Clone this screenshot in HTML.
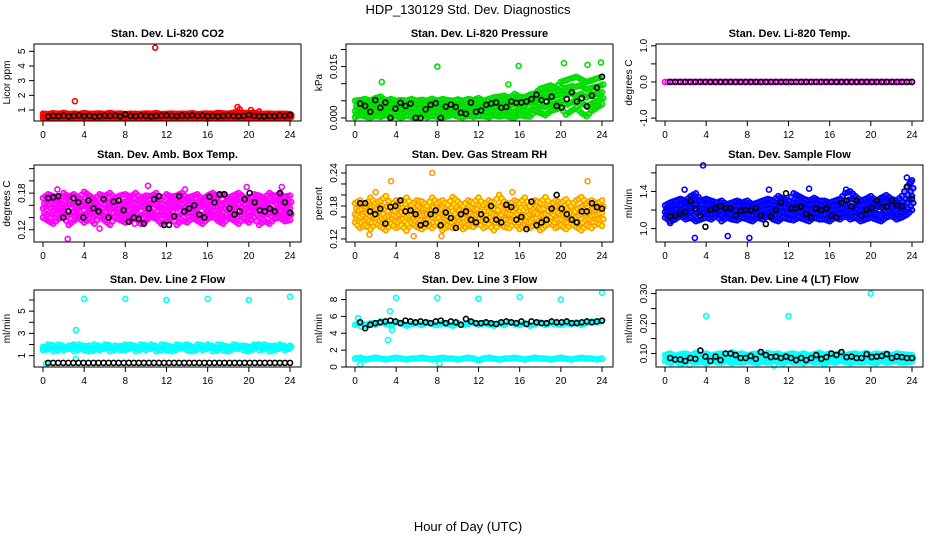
<!DOCTYPE html>
<html><head><meta charset="utf-8"><style>
body{margin:0;background:#fff;width:936px;height:540px;overflow:hidden;font-family:"Liberation Sans",Arial,sans-serif}
svg text{font-family:"Liberation Sans",Arial,sans-serif}
</style></head><body>
<svg id="chart" width="936" height="540" viewBox="0 0 936 540" xmlns="http://www.w3.org/2000/svg">
<text x="468" y="14" font-size="13" text-anchor="middle">HDP_130129  Std. Dev. Diagnostics</text>
<text x="468" y="531" font-size="13" text-anchor="middle">Hour of Day (UTC)</text>
</svg>
<script>
// ---- data (values at half-hour steps 0..24) ----
const hourTicks=[0,4,8,12,16,20,24];
const co2Lo=[0.45,0.48,0.44,0.5,0.46,0.47,0.45,0.49,0.44,0.46,0.5,0.45,0.47,0.48,0.44,0.46,0.45,0.49,0.47,0.44,0.46,0.48,0.45,0.47,0.46,0.5,0.44,0.46,0.48,0.45,0.47,0.44,0.42,0.46,0.48,0.45,0.47,0.49,0.5,0.46,0.45,0.48,0.44,0.46,0.47,0.45,0.48,0.46,0.47];
const co2Mid=[0.6,0.62,0.58,0.63,0.6,0.61,0.59,0.62,0.6,0.64,0.58,0.61,0.6,0.62,0.59,0.6,0.63,0.61,0.6,0.58,0.62,0.6,0.61,0.59,0.6,0.62,0.63,0.6,0.58,0.61,0.6,0.62,0.59,0.6,0.61,0.63,0.6,0.62,0.65,0.6,0.61,0.62,0.6,0.59,0.61,0.6,0.62,0.6,0.61];
const co2Hi=[0.75,0.72,0.78,0.74,0.8,0.73,0.76,0.72,0.79,0.74,0.75,0.77,0.73,0.8,0.74,0.76,0.72,0.75,0.74,0.73,0.77,0.75,0.79,0.72,0.74,0.76,0.73,0.75,0.74,0.78,0.72,0.75,0.76,0.74,0.8,0.77,0.75,0.82,0.85,0.8,0.78,0.82,0.75,0.74,0.76,0.73,0.75,0.74,0.72];
const co2OutH=[3.1,10.9,18.9,19.1,20.2,21.0];
const co2OutV=[1.6,5.25,1.2,1.05,1.0,0.9];
const co2Blk=[0.55,0.6,0.58,0.62,0.57,0.6,0.63,0.58,0.6,0.55,0.58,0.61,0.6,0.62,0.57,0.7,0.6,0.58,0.62,0.6,0.57,0.6,0.61,0.63,0.6,0.58,0.62,0.6,0.64,0.6,0.62,0.58,0.6,0.57,0.6,0.62,0.6,0.58,0.6,0.66,0.6,0.58,0.57,0.6,0.58,0.62,0.6,0.65];

const presLo=[0.0002,0.0008,0.0004,0.0001,0.0006,0.0003,0.0009,0.0002,0.0005,0.0001,0.0007,0.0003,0.0004,0.0008,0.0002,0.0006,0.0003,0.0001,0.0005,0.0009,0.0004,0.0002,0.0007,0.0003,0.0006,0.0005,0.0002,0.0008,0.0004,0.0007,0.0003,0.0001,0.0009,0.0005,0.0004,0.002,0.0015,0.0008,0.002,0.0025,0.003,0.001,0.002,0.003,0.0015,0.0005,0.002,0.003,0.004];
const presMid=[0.002,0.003,0.0025,0.003,0.0035,0.002,0.003,0.0028,0.003,0.0025,0.003,0.0032,0.0028,0.003,0.0025,0.003,0.0033,0.003,0.0027,0.003,0.0029,0.003,0.0031,0.0028,0.003,0.003,0.0035,0.003,0.0038,0.004,0.0035,0.0042,0.004,0.0038,0.0045,0.005,0.0055,0.006,0.0058,0.0065,0.007,0.0068,0.0072,0.0065,0.007,0.006,0.0068,0.007,0.0075];
const presHi=[0.005,0.0052,0.0055,0.005,0.0058,0.0062,0.005,0.0055,0.005,0.0052,0.005,0.0055,0.005,0.0053,0.005,0.0056,0.005,0.0055,0.0052,0.005,0.0054,0.005,0.0055,0.0052,0.0058,0.005,0.0055,0.006,0.0062,0.0065,0.0058,0.007,0.0062,0.006,0.0068,0.0072,0.0085,0.009,0.0095,0.0088,0.0105,0.011,0.0115,0.012,0.0112,0.0105,0.011,0.0115,0.012];
const presOutH=[8.0,15.9,20.3,22.6,23.9,2.6,14.9];
const presOutV=[0.015,0.0152,0.016,0.0155,0.0162,0.0105,0.0098];
const presBlk=[0.0042,0.0035,0.0018,0.0052,0.003,0.0045,0.0,0.0027,0.0044,0.0035,0.0042,0.0,0.0,0.0025,0.0038,0.0043,0.0,0.0033,0.0039,0.0032,0.0015,0.0012,0.0045,0.0018,0.0022,0.0038,0.0042,0.0045,0.003,0.0032,0.0048,0.0044,0.0045,0.0048,0.0055,0.0068,0.0052,0.0048,0.0062,0.0035,0.003,0.0055,0.0075,0.0048,0.0058,0.0034,0.0065,0.0088,0.012];

const tempZero=[0,0,0,0,0,0,0,0,0,0,0,0,0,0,0,0,0,0,0,0,0,0,0,0,0,0,0,0,0,0,0,0,0,0,0,0,0,0,0,0,0,0,0,0,0,0,0,0,0];

const ambLo=[0.14,0.135,0.13,0.138,0.142,0.128,0.135,0.14,0.132,0.138,0.13,0.142,0.135,0.128,0.14,0.136,0.132,0.138,0.14,0.13,0.135,0.142,0.138,0.13,0.134,0.14,0.128,0.136,0.132,0.14,0.135,0.13,0.138,0.142,0.135,0.13,0.14,0.136,0.13,0.138,0.132,0.14,0.128,0.135,0.13,0.138,0.14,0.134,0.136];
const ambMid=[0.155,0.16,0.152,0.158,0.155,0.162,0.15,0.156,0.16,0.154,0.158,0.152,0.16,0.155,0.158,0.15,0.156,0.16,0.154,0.158,0.155,0.15,0.16,0.156,0.152,0.158,0.155,0.16,0.153,0.157,0.155,0.16,0.152,0.158,0.156,0.15,0.158,0.155,0.16,0.152,0.156,0.158,0.154,0.16,0.155,0.152,0.158,0.156,0.155];
const ambHi=[0.172,0.178,0.175,0.17,0.18,0.174,0.178,0.172,0.182,0.176,0.17,0.178,0.175,0.18,0.172,0.176,0.178,0.174,0.18,0.172,0.176,0.175,0.18,0.17,0.178,0.174,0.176,0.18,0.172,0.175,0.178,0.17,0.176,0.18,0.174,0.178,0.172,0.176,0.18,0.174,0.17,0.178,0.176,0.172,0.18,0.175,0.178,0.174,0.176];
const ambOutH=[2.4,6.3,1.4,10.2,13.8,19.8,23.2,5.5,8.9];
const ambOutV=[0.105,0.244,0.186,0.192,0.186,0.19,0.19,0.122,0.13];
const ambBlk=[0.172,0.173,0.175,0.14,0.15,0.172,0.165,0.14,0.168,0.155,0.15,0.17,0.14,0.166,0.168,0.152,0.133,0.14,0.138,0.13,0.155,0.17,0.175,0.128,0.128,0.142,0.175,0.15,0.155,0.16,0.145,0.14,0.174,0.165,0.178,0.178,0.155,0.145,0.15,0.17,0.18,0.165,0.152,0.15,0.155,0.15,0.18,0.165,0.148];

const rhLo=[0.15,0.14,0.145,0.138,0.15,0.142,0.136,0.148,0.14,0.145,0.135,0.15,0.142,0.138,0.146,0.14,0.15,0.136,0.144,0.14,0.148,0.138,0.145,0.142,0.15,0.14,0.146,0.136,0.148,0.142,0.14,0.15,0.138,0.145,0.14,0.148,0.136,0.144,0.15,0.14,0.145,0.138,0.148,0.142,0.136,0.145,0.14,0.15,0.144];
const rhMid=[0.165,0.16,0.168,0.162,0.165,0.17,0.16,0.165,0.162,0.168,0.16,0.165,0.17,0.162,0.165,0.16,0.168,0.165,0.162,0.17,0.16,0.165,0.168,0.162,0.165,0.16,0.17,0.164,0.16,0.168,0.165,0.162,0.17,0.16,0.165,0.168,0.162,0.165,0.16,0.17,0.164,0.162,0.168,0.16,0.165,0.17,0.162,0.165,0.168];
const rhHi=[0.185,0.19,0.18,0.195,0.185,0.19,0.198,0.18,0.19,0.185,0.195,0.182,0.19,0.188,0.18,0.195,0.185,0.19,0.182,0.196,0.188,0.18,0.19,0.185,0.195,0.182,0.19,0.185,0.2,0.188,0.182,0.19,0.185,0.195,0.18,0.19,0.186,0.196,0.182,0.19,0.185,0.192,0.18,0.19,0.196,0.185,0.19,0.184,0.19];
const rhOutH=[7.5,3.5,22.6,1.4,8.4,15.3,2.0,5.7];
const rhOutV=[0.24,0.225,0.225,0.128,0.125,0.205,0.205,0.125];
const rhBlk=[0.185,0.185,0.17,0.165,0.175,0.148,0.178,0.18,0.19,0.17,0.172,0.165,0.145,0.148,0.165,0.172,0.145,0.168,0.158,0.14,0.165,0.17,0.155,0.15,0.165,0.155,0.18,0.155,0.15,0.182,0.178,0.155,0.16,0.138,0.188,0.145,0.15,0.155,0.175,0.2,0.175,0.165,0.155,0.15,0.17,0.17,0.185,0.178,0.175];

const flowLo=[1.12,1.08,1.1,1.14,1.1,1.12,1.08,1.1,1.12,1.1,1.14,1.08,1.12,1.1,1.09,1.12,1.1,1.08,1.12,1.1,1.14,1.1,1.08,1.12,1.1,1.09,1.12,1.1,1.08,1.12,1.1,1.1,1.08,1.12,1.1,1.14,1.1,1.12,1.08,1.1,1.12,1.1,1.08,1.12,1.14,1.1,1.12,1.15,1.2];
const flowMid=[1.18,1.2,1.22,1.2,1.24,1.22,1.25,1.22,1.2,1.22,1.2,1.2,1.18,1.2,1.2,1.22,1.2,1.2,1.18,1.2,1.22,1.2,1.22,1.24,1.22,1.25,1.24,1.22,1.2,1.22,1.2,1.22,1.2,1.2,1.22,1.22,1.24,1.22,1.2,1.22,1.24,1.22,1.25,1.24,1.22,1.24,1.22,1.28,1.35];
const flowHi=[1.25,1.28,1.3,1.32,1.3,1.35,1.38,1.3,1.32,1.3,1.28,1.3,1.26,1.28,1.3,1.28,1.3,1.26,1.28,1.3,1.32,1.3,1.35,1.32,1.3,1.38,1.35,1.32,1.3,1.33,1.3,1.3,1.28,1.3,1.32,1.38,1.4,1.35,1.3,1.32,1.35,1.3,1.33,1.36,1.32,1.3,1.35,1.45,1.52];
const flowOutH=[3.7,2.9,8.2,6.1,0.5,1.9,10.1,14.0,17.6,23.5,23.9];
const flowOutV=[1.68,0.9,0.9,0.92,1.06,1.42,1.42,1.43,1.42,1.55,1.5];
const flowBlk=[1.13,1.14,1.16,1.18,1.3,1.22,1.14,1.02,1.2,1.22,1.24,1.22,1.22,1.14,1.19,1.2,1.2,1.22,1.14,1.05,1.13,1.2,1.28,1.38,1.22,1.22,1.24,1.16,1.12,1.22,1.2,1.22,1.14,1.12,1.28,1.3,1.24,1.3,1.14,1.2,1.22,1.3,1.23,1.24,1.3,1.25,1.24,1.45,1.32];

const l2Band=[1.8,1.6,1.9,1.5,1.8,1.7,2.0,1.6,1.8,1.9,1.5,1.8,1.7,1.9,1.6,1.8,2.0,1.7,1.8,1.6,1.9,1.7,1.8,1.5,1.9,1.8,1.6,1.7,2.0,1.8,1.6,1.9,1.7,1.8,1.5,1.9,1.8,1.7,1.6,1.9,1.8,1.7,2.0,1.6,1.8,1.9,1.7,1.8,1.7];
const l2Band2=[1.5,2.0,1.4,2.0,1.5,1.9,1.4,2.0,1.5,1.4,2.0,1.5,2.0,1.4,1.9,1.5,1.5,2.0,1.4,2.0,1.5,2.0,1.4,2.0,1.5,1.4,2.0,1.9,1.5,1.4,2.0,1.5,2.0,1.4,2.0,1.5,1.4,2.0,1.9,1.5,1.4,2.0,1.5,2.0,1.4,1.5,2.0,1.5,1.9];
const l2OutH=[0.3,3.2,3.2,4.0,8.0,12.0,16.0,20.0,24.0];
const l2OutV=[0.3,3.3,0.7,6.1,6.1,6.0,6.1,6.0,6.3];
const l2Blk=[0.35,0.35,0.35,0.35,0.35,0.35,0.35,0.35,0.35,0.35,0.35,0.35,0.35,0.35,0.35,0.35,0.35,0.35,0.35,0.35,0.35,0.35,0.35,0.35,0.35,0.35,0.35,0.35,0.35,0.35,0.35,0.35,0.35,0.35,0.35,0.35,0.35,0.35,0.35,0.35,0.35,0.35,0.35,0.35,0.35,0.35,0.35,0.35,0.35];

const l3Low=[1.0,1.1,0.9,1.0,1.1,1.0,0.9,1.0,1.1,1.0,0.9,1.0,1.0,1.1,1.0,0.9,1.0,1.1,1.0,1.0,0.9,1.0,1.1,1.0,0.8,1.0,1.1,1.0,0.9,1.0,1.0,1.1,1.0,0.9,1.0,1.1,1.0,1.0,0.9,1.0,1.1,1.0,0.9,1.0,1.1,1.0,1.0,0.9,1.0];
const l3Band=[5.0,5.3,4.9,5.2,5.0,5.4,5.1,5.0,5.3,5.2,4.9,5.1,5.2,5.0,5.3,5.1,5.0,5.2,5.1,4.9,5.2,5.0,5.1,5.3,5.0,5.2,5.1,4.9,5.2,5.0,5.3,5.1,5.0,5.2,4.9,5.1,5.3,5.0,5.2,5.1,5.0,5.2,5.1,5.3,5.0,5.2,5.4,5.3,5.5];
const l3OutH=[0.3,0.5,3.2,3.4,3.6,4.0,8.0,12.0,16.0,20.0,24.0,8.2,0.6];
const l3OutV=[5.8,0.3,3.2,6.6,4.4,8.2,8.2,8.1,8.3,8.0,8.8,0.4,4.8];
const l3Blk=[5.3,4.6,5.0,5.2,5.3,5.4,5.5,5.4,5.2,5.5,5.4,5.3,5.4,5.3,5.2,5.4,5.5,5.2,5.4,5.3,5.0,5.7,5.4,5.2,5.2,5.3,5.2,5.1,5.3,5.4,5.3,5.2,5.4,5.1,5.4,5.3,5.2,5.2,5.4,5.3,5.3,5.4,5.2,5.2,5.3,5.4,5.3,5.4,5.5];

const l4Lo=[0.075,0.07,0.078,0.065,0.072,0.076,0.07,0.074,0.068,0.075,0.072,0.07,0.076,0.068,0.073,0.07,0.075,0.072,0.068,0.074,0.07,0.076,0.072,0.068,0.075,0.07,0.073,0.068,0.076,0.07,0.072,0.065,0.074,0.07,0.076,0.072,0.068,0.075,0.07,0.074,0.072,0.068,0.076,0.07,0.073,0.075,0.07,0.072,0.074];
const l4Hi=[0.095,0.1,0.092,0.098,0.1,0.094,0.102,0.096,0.1,0.093,0.098,0.1,0.095,0.104,0.097,0.1,0.094,0.098,0.1,0.095,0.102,0.097,0.1,0.094,0.098,0.1,0.096,0.1,0.093,0.098,0.102,0.095,0.1,0.097,0.1,0.094,0.098,0.1,0.096,0.102,0.095,0.1,0.097,0.1,0.094,0.1,0.098,0.096,0.095];
const l4OutH=[4.0,12.0,20.0,0.6,2.4,10.6];
const l4OutV=[0.225,0.225,0.3,0.068,0.062,0.06];
const l4Blk=[0.085,0.08,0.08,0.075,0.085,0.082,0.11,0.09,0.075,0.09,0.078,0.1,0.1,0.095,0.085,0.085,0.092,0.082,0.105,0.095,0.088,0.09,0.085,0.09,0.085,0.078,0.085,0.078,0.085,0.095,0.082,0.088,0.1,0.095,0.105,0.088,0.09,0.085,0.085,0.098,0.088,0.09,0.092,0.098,0.085,0.09,0.088,0.085,0.085];

// ---- layout ----
const svg=document.getElementById('chart');
const NS='http://www.w3.org/2000/svg';
const colLeft=[34,346,656], rowTop=[44,165,290], PW=267, PH=77;
function mk(tag,attrs,parent){const e=document.createElementNS(NS,tag);for(const k in attrs)e.setAttribute(k,attrs[k]);(parent||svg).appendChild(e);return e;}

const panels=[
 {name:'co2',title:'Stan. Dev. Li-820 CO2',ylab:'Licor ppm',ymin:0.25,ymax:5.5,ticks:[1,2,3,4,5],labels:[1,2,3,4,5],col:'#ff0000',fill:'#ff0000',between:true,
  cloud:[co2Lo,co2Mid,co2Hi],outH:co2OutH,outV:co2OutV,blk:co2Blk},
 {name:'pressure',title:'Stan. Dev. Li-820 Pressure',ylab:'kPa',ymin:-0.0009,ymax:0.0216,ticks:[0,0.005,0.01,0.015,0.02],labels:['0.000','','','0.015',''],col:'#00dd00',fill:'#00dd00',between:true,
  cloud:[presLo,presMid,presHi],outH:presOutH,outV:presOutV,blk:presBlk},
 {name:'temp',title:'Stan. Dev. Li-820 Temp.',ylab:'degrees C',ymin:-1.08,ymax:1.05,ticks:[-1,-0.5,0,0.5,1],labels:['-1.0','','0.0','','1.0'],col:'#ff00ff',fill:'none',between:false,
  cloud:[tempZero],outH:[],outV:[],blk:tempZero},
 {name:'amb-temp',title:'Stan. Dev. Amb. Box Temp.',ylab:'degrees C',ymin:0.1,ymax:0.226,ticks:[0.12,0.14,0.16,0.18,0.2,0.22],labels:['0.12','','','0.18','',''],col:'#ff00ff',fill:'#ff00ff',between:true,
  cloud:[ambLo,ambMid,ambHi],outH:ambOutH,outV:ambOutV,blk:ambBlk},
 {name:'rh',title:'Stan. Dev. Gas Stream RH',ylab:'percent',ymin:0.1145,ymax:0.2545,ticks:[0.12,0.14,0.16,0.18,0.2,0.22,0.24],labels:['0.12','','','0.18','','','0.24'],col:'#ff9900',fill:'#ffff00',between:true,
  cloud:[rhLo,rhMid,rhHi],outH:rhOutH,outV:rhOutV,blk:rhBlk},
 {name:'sample-flow',title:'Stan. Dev. Sample Flow',ylab:'ml/min',ymin:0.856,ymax:1.685,ticks:[1.0,1.2,1.4,1.6],labels:['1.0','','1.4',''],col:'#0000ff',fill:'#0000ff',between:true,
  cloud:[flowLo,flowMid,flowHi],outH:flowOutH,outV:flowOutV,blk:flowBlk},
 {name:'line2-flow',title:'Stan. Dev. Line 2 Flow',ylab:'ml/min',ymin:-0.02,ymax:6.9,ticks:[1,2,3,4,5,6],labels:['1','','3','','5',''],col:'#00ffff',fill:'#00ffff',between:true,
  cloud:[l2Band,l2Band2],outH:l2OutH,outV:l2OutV,blk:l2Blk},
 {name:'line3-flow',title:'Stan. Dev. Line 3 Flow',ylab:'ml/min',ymin:0,ymax:9.13,ticks:[0,2,4,6,8],labels:['0','2','4','6','8'],col:'#00ffff',fill:'#00ffff',between:false,
  cloud:[l3Low,l3Band],outH:l3OutH,outV:l3OutV,blk:l3Blk},
 {name:'line4-flow',title:'Stan. Dev. Line 4 (LT) Flow',ylab:'ml/min',ymin:0.055,ymax:0.312,ticks:[0.1,0.15,0.2,0.25,0.3],labels:['0.10','','0.20','','0.30'],col:'#00ffff',fill:'#00ffff',between:true,
  cloud:[l4Lo,l4Hi],outH:l4OutH,outV:l4OutV,blk:l4Blk}
];

panels.forEach((p,i)=>{
  const L=colLeft[i%3], T=rowTop[Math.floor(i/3)], B=T+PH;
  const g=mk('g',{});
  
  
  const xs=h=>L+9+h*(247/24);
  const ys=v=>B-(v-p.ymin)/(p.ymax-p.ymin)*PH;
  const t=mk('text',{x:L+PW/2,y:T-7,'font-size':11,'font-weight':'bold','text-anchor':'middle'},g);
  t.textContent=p.title;
  
  
  const yl=mk('text',{x:0,y:0,'font-size':10,'text-anchor':'middle',transform:`translate(${L-24},${T+PH/2}) rotate(-90)`},g);
  yl.textContent=p.ylab;
  
  
  const pts=mk('g',{},g);
  
  
  const dot=(h,v,c,f,op)=>{const y=ys(v);if(y<T-2||y>B+2)return;const e=mk('circle',{cx:xs(h),cy:y,r:2.5,fill:f,'fill-opacity':op,stroke:c,'stroke-width':1.6},pts);
    
    };
  const cop=p.fill==='#ffff00'?0.9:0.5;
  p.cloud.forEach((arr,ci)=>{arr.forEach((v,k)=>{const h=k*24/(arr.length-1);dot(h,v,p.col,p.fill,cop);
    if(k<arr.length-1){dot(h+0.25,(v+arr[k+1])/2,p.col,p.fill,cop);}
    if(p.between&&ci<p.cloud.length-1){const nxt=p.cloud[ci+1];dot(h+0.125,(v+nxt[k])/2,p.col,p.fill,cop);if(k<arr.length-1)dot(h+0.375,(arr[k+1]+nxt[k])/2,p.col,p.fill,cop);}
  });});
  p.outH.forEach((h,k)=>dot(h,p.outV[k],p.col,'none',1));
  p.blk.forEach((v,k)=>dot(0.5+k*23.5/(p.blk.length-1),v,'#000','none',1));
  const box=mk('rect',{x:L,y:T,width:PW,height:PH,fill:'none',stroke:'#000','stroke-width':1},g);
  
  
  hourTicks.forEach(h=>{mk('line',{x1:xs(h),x2:xs(h),y1:B,y2:B+5,stroke:'#000'},g);
    const tl=mk('text',{x:xs(h),y:B+17,'font-size':10,'text-anchor':'middle'},g);tl.textContent=h;
    
    });
  p.ticks.forEach((v,k)=>{const y=ys(v);mk('line',{x1:L,x2:L-5,y1:y,y2:y,stroke:'#000'},g);
    if(p.labels[k]!==''){const tl=mk('text',{x:0,y:0,'font-size':10,'text-anchor':'middle',transform:`translate(${L-9},${y}) rotate(-90)`},g);tl.textContent=p.labels[k];
    
    }});
});
</script>
</body></html>
